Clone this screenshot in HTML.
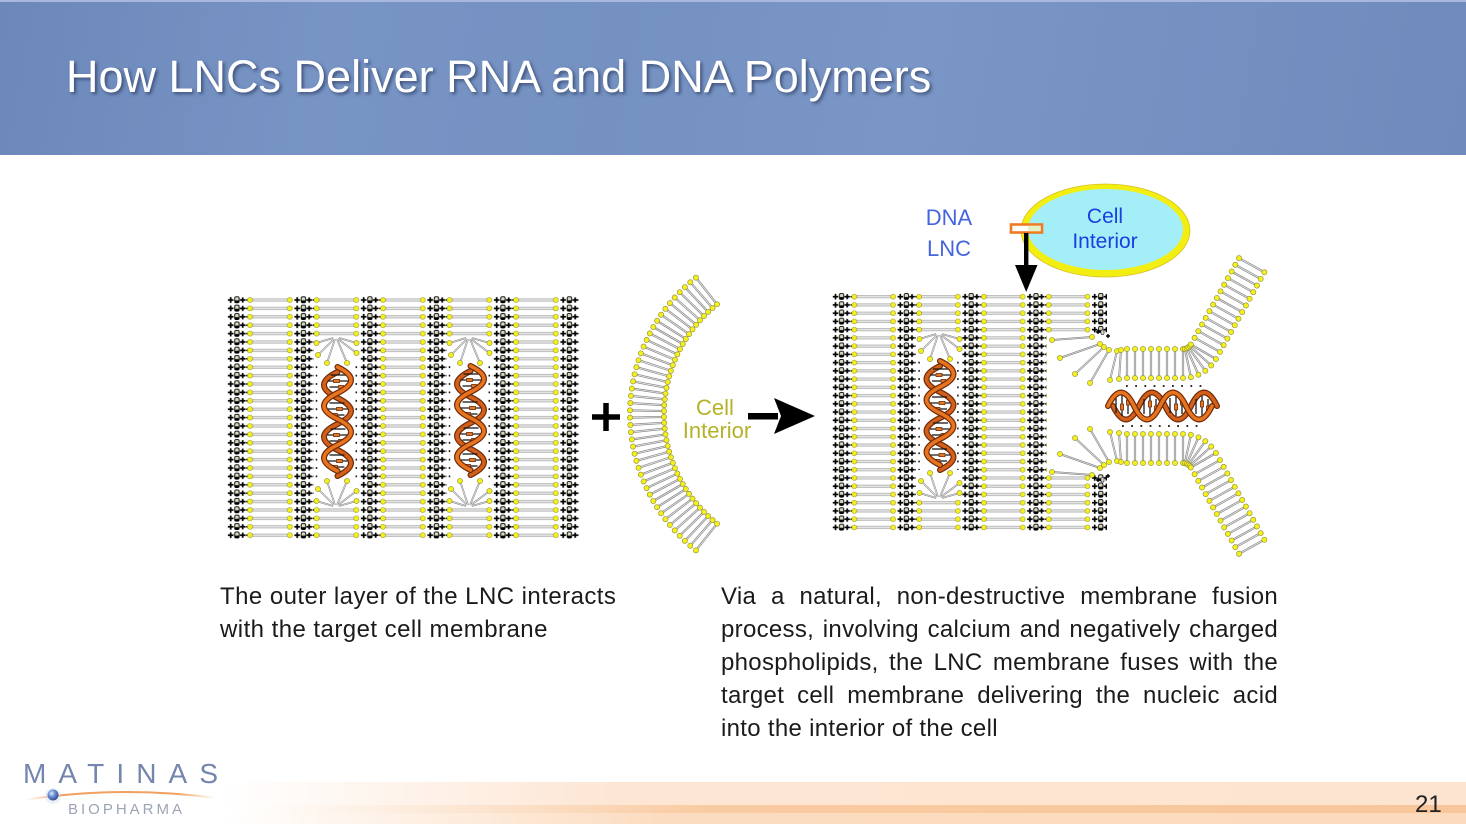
<!DOCTYPE html>
<html><head><meta charset="utf-8">
<style>
html,body{margin:0;padding:0;}
body{width:1466px;height:824px;position:relative;overflow:hidden;background:#fff;font-family:"Liberation Sans",Arial,sans-serif;}
.hdr{position:absolute;left:0;top:0;width:1466px;height:155px;background:linear-gradient(100deg,#6c88ba 0%,#7794c5 22%,#7491c2 42%,#7a96c6 62%,#6f8bbd 100%);border-top:2px solid #a6b9dc;box-sizing:border-box;}
.title{position:absolute;left:66px;top:54px;font-size:45px;line-height:45px;color:#fff;white-space:nowrap;text-shadow:2px 2px 3px rgba(20,30,60,0.55);}
.foot{position:absolute;left:0;top:782px;width:1466px;height:23px;background:linear-gradient(to right,rgba(253,230,212,0) 0%,rgba(253,230,212,0) 15%,#fde6d4 42%,#fde4d0 100%);}
.stripe{position:absolute;left:0;top:805px;width:1466px;height:8px;background:linear-gradient(to right,rgba(249,202,160,0) 0%,rgba(249,202,160,0) 16%,#f9cba2 48%,#f8c69a 100%);}
.foot2{position:absolute;left:0;top:813px;width:1466px;height:11px;background:linear-gradient(to right,rgba(252,220,191,0) 0%,rgba(252,220,191,0) 15%,#fcdcc0 45%,#fcdabd 100%);}
.pg{position:absolute;left:1415px;top:793px;font-size:24px;line-height:24px;color:#222;}
.svg{position:absolute;left:0;top:0;}
.p1{position:absolute;left:220px;top:580px;font-size:24px;line-height:33px;letter-spacing:0.45px;color:#1b1b1b;white-space:nowrap;}
.p2{position:absolute;left:721px;top:580px;width:557px;font-size:24px;line-height:33px;letter-spacing:0.3px;color:#1b1b1b;}
.j{text-align:justify;text-align-last:justify;}
</style></head>
<body>
<div class="hdr"></div>
<div class="title">How LNCs Deliver RNA and DNA Polymers</div>
<div class="foot"></div><div class="stripe"></div><div class="foot2"></div>
<div class="pg">21</div>

<svg class="svg" width="1466" height="824" viewBox="0 0 1466 824" xmlns="http://www.w3.org/2000/svg">
<defs>
 <g id="tile">
  <rect x="29.4" y="3" width="34.8" height="2.4" fill="#e4e4e4" stroke="#8a8a8a" stroke-width="0.5"/>
  <path d="M4.6,4.2h5.6M7.4,1.4v5.6M16.6,4.2h5.6M19.4,1.6v5.2" stroke="#000" stroke-width="1.7" fill="none"/>
  <rect x="11.4" y="0.9" width="4.4" height="6" rx="1.4" fill="#d8d8c0" stroke="#000" stroke-width="0.9"/>
  <rect x="11.6" y="4.6" width="4" height="2.3" fill="#000"/>
  <circle cx="23.6" cy="4.2" r="0.9" fill="#000"/>
  <g fill="#f4ef1d" stroke="#8d8d33" stroke-width="0.5">
   <circle cx="0" cy="4.2" r="2.6"/><circle cx="26.7" cy="4.2" r="2.6"/><circle cx="66.5" cy="4.2" r="2.6"/>
  </g>
 </g>
 <pattern id="pL" patternUnits="userSpaceOnUse" x="223.3" y="295.8" width="66.5" height="8.4">
  <use href="#tile"/>
 </pattern>
 <pattern id="pR" patternUnits="userSpaceOnUse" x="828.3" y="292.58" width="64.8" height="8.24">
  <use href="#tile" transform="scale(0.9744,0.981)"/>
 </pattern>

 <g id="vl">
  <line x1="0" y1="0" x2="0" y2="29" stroke="#8c8c8c" stroke-width="2.2"/>
  <line x1="0" y1="0" x2="0" y2="29" stroke="#f4f4f4" stroke-width="0.7"/>
  <circle cx="0" cy="0" r="2.6" fill="#f4ef1d" stroke="#8d8d33" stroke-width="0.6"/>
  <circle cx="0" cy="29" r="2.6" fill="#f4ef1d" stroke="#8d8d33" stroke-width="0.6"/>
 </g>
 <g id="al">
  <line x1="630" y1="414" x2="664" y2="414" stroke="#8c8c8c" stroke-width="2.2"/>
  <line x1="630" y1="414" x2="664" y2="414" stroke="#f4f4f4" stroke-width="0.7"/>
  <circle cx="630" cy="414" r="2.6" fill="#f4ef1d" stroke="#8d8d33" stroke-width="0.6"/>
  <circle cx="664" cy="414" r="2.6" fill="#f4ef1d" stroke="#8d8d33" stroke-width="0.6"/>
 </g>

 <g id="fanT">
  <g stroke="#8c8c8c" stroke-width="1.8">
   <line x1="333" y1="338" x2="316.5" y2="343"/>
   <line x1="334" y1="339" x2="318" y2="355"/>
   <line x1="335" y1="339" x2="327" y2="363"/>
   <line x1="337" y1="339" x2="347" y2="363"/>
   <line x1="338" y1="339" x2="356.5" y2="353"/>
   <line x1="339" y1="338" x2="356.5" y2="343"/>
  </g>
  <g stroke="#f4f4f4" stroke-width="0.6">
   <line x1="333" y1="338" x2="316.5" y2="343"/>
   <line x1="334" y1="339" x2="318" y2="355"/>
   <line x1="335" y1="339" x2="327" y2="363"/>
   <line x1="337" y1="339" x2="347" y2="363"/>
   <line x1="338" y1="339" x2="356.5" y2="353"/>
   <line x1="339" y1="338" x2="356.5" y2="343"/>
  </g>
  <g fill="#f4ef1d" stroke="#8d8d33" stroke-width="0.6">
   <circle cx="316.5" cy="343" r="2.6"/><circle cx="318" cy="355" r="2.6"/><circle cx="327" cy="363" r="2.6"/>
   <circle cx="347" cy="363" r="2.6"/><circle cx="356.5" cy="353" r="2.6"/><circle cx="356.5" cy="343" r="2.6"/>
  </g>
 </g>

 <g id="helix">
  <g fill="none" stroke-linecap="round">
   <path d="M0,5 Q-27,18 0,31 T0,57 T0,83 T0,109" stroke="#6e2a08" stroke-width="6"/>
   <path d="M0,5 Q-27,18 0,31 T0,57 T0,83 T0,109" stroke="#d2601a" stroke-width="3.6"/>
  </g>
  <g stroke="#1a1a1a" stroke-width="1.3">
   <line x1="-7" y1="8" x2="8" y2="8"/><line x1="-10" y1="14" x2="11" y2="14"/><line x1="-8" y1="20" x2="8" y2="20"/>
   <line x1="-8" y1="36" x2="7" y2="36"/><line x1="-11" y1="42" x2="10" y2="42"/><line x1="-8" y1="48" x2="7" y2="48"/>
   <line x1="-7" y1="62" x2="8" y2="62"/><line x1="-10" y1="68" x2="11" y2="68"/><line x1="-8" y1="74" x2="8" y2="74"/>
   <line x1="-8" y1="88" x2="7" y2="88"/><line x1="-11" y1="94" x2="10" y2="94"/><line x1="-8" y1="100" x2="7" y2="100"/>
  </g>
  <g fill="#e27a2c" stroke="#5a2204" stroke-width="0.6">
   <rect x="-4" y="12.3" width="6" height="3.4"/><rect x="-1" y="40.3" width="6" height="3.4"/>
   <rect x="-4" y="66.3" width="6" height="3.4"/><rect x="-1" y="92.3" width="6" height="3.4"/>
   <rect x="1" y="18.3" width="5" height="3.2"/><rect x="-5" y="46.3" width="5" height="3.2"/>
   <rect x="1" y="72.3" width="5" height="3.2"/><rect x="-5" y="98.3" width="5" height="3.2"/>
  </g>
  <g fill="none" stroke-linecap="round">
   <path d="M0,0 Q27,13 0,26 T0,52 T0,78 T0,104" stroke="#6e2a08" stroke-width="6"/>
   <path d="M0,0 Q27,13 0,26 T0,52 T0,78 T0,104" stroke="#e8741f" stroke-width="3.6"/>
  </g>
 </g>

 <g id="fz">
  <use href="#vl" x="1127" y="349"/><use href="#vl" x="1135" y="349"/><use href="#vl" x="1143" y="349"/>
  <use href="#vl" x="1151" y="349"/><use href="#vl" x="1159" y="349"/><use href="#vl" x="1167" y="349"/>
  <use href="#vl" x="1175" y="349"/><use href="#vl" x="1183" y="349"/>
  <use href="#vl" transform="translate(1183,340) rotate(-12) translate(0,9)"/>
  <use href="#vl" transform="translate(1183,340) rotate(-24) translate(0,9)"/>
  <use href="#vl" transform="translate(1183,340) rotate(-36) translate(0,9)"/>
  <use href="#vl" transform="translate(1183,340) rotate(-48) translate(0,9)"/>
  <use href="#vl" transform="translate(1183,340) rotate(-60) translate(0,9)"/>
  <use href="#vl" transform="translate(1194.6,337.8) rotate(-61)"/>
  <use href="#vl" transform="translate(1198.3,331.1) rotate(-61)"/>
  <use href="#vl" transform="translate(1202.0,324.5) rotate(-61)"/>
  <use href="#vl" transform="translate(1205.7,317.9) rotate(-61)"/>
  <use href="#vl" transform="translate(1209.4,311.2) rotate(-61)"/>
  <use href="#vl" transform="translate(1213.1,304.6) rotate(-61)"/>
  <use href="#vl" transform="translate(1216.8,298.0) rotate(-61)"/>
  <use href="#vl" transform="translate(1220.5,291.4) rotate(-61)"/>
  <use href="#vl" transform="translate(1224.2,284.7) rotate(-61)"/>
  <use href="#vl" transform="translate(1227.9,278.1) rotate(-61)"/>
  <use href="#vl" transform="translate(1231.6,271.5) rotate(-61)"/>
  <use href="#vl" transform="translate(1235.3,264.8) rotate(-61)"/>
  <use href="#vl" transform="translate(1239.0,258.2) rotate(-61)"/>
  <g stroke="#8c8c8c" stroke-width="2">
   <line x1="1052" y1="340" x2="1092" y2="337"/>
   <line x1="1060" y1="358" x2="1100" y2="344"/>
   <line x1="1075" y1="374" x2="1104" y2="347"/>
   <line x1="1090" y1="383" x2="1109" y2="350"/>
   <line x1="1110" y1="380" x2="1117" y2="351"/>
   <line x1="1119" y1="379" x2="1121" y2="350"/>
  </g>
  <g stroke="#f4f4f4" stroke-width="0.6">
   <line x1="1052" y1="340" x2="1092" y2="337"/>
   <line x1="1060" y1="358" x2="1100" y2="344"/>
   <line x1="1075" y1="374" x2="1104" y2="347"/>
   <line x1="1090" y1="383" x2="1109" y2="350"/>
   <line x1="1110" y1="380" x2="1117" y2="351"/>
   <line x1="1119" y1="379" x2="1121" y2="350"/>
  </g>
  <g fill="#f4ef1d" stroke="#8d8d33" stroke-width="0.6">
   <circle cx="1052" cy="340" r="2.6"/><circle cx="1092" cy="337" r="2.6"/>
   <circle cx="1060" cy="358" r="2.6"/><circle cx="1100" cy="344" r="2.6"/>
   <circle cx="1075" cy="374" r="2.6"/><circle cx="1104" cy="347" r="2.6"/>
   <circle cx="1090" cy="383" r="2.6"/><circle cx="1109" cy="350" r="2.6"/>
   <circle cx="1110" cy="380" r="2.6"/><circle cx="1117" cy="351" r="2.6"/>
   <circle cx="1119" cy="379" r="2.6"/><circle cx="1121" cy="350" r="2.6"/>
  </g>
  <path d="M1096,332h4M1098,330v4M1106,336h4M1108,334v4" stroke="#000" stroke-width="1.4"/>
  <rect x="1101" y="330" width="3" height="4.5" rx="1" fill="#ddd" stroke="#111" stroke-width="0.6"/>
 </g>

 <radialGradient id="sph" cx="0.38" cy="0.35" r="0.7">
  <stop offset="0" stop-color="#e4ecfa"/><stop offset="0.45" stop-color="#6a8fd0"/><stop offset="1" stop-color="#2c4a8e"/>
 </radialGradient>
 <linearGradient id="sw" x1="0" y1="0" x2="1" y2="0">
  <stop offset="0" stop-color="#f4b078" stop-opacity="0"/><stop offset="0.2" stop-color="#f0a060"/>
  <stop offset="0.8" stop-color="#f0a060"/><stop offset="1" stop-color="#f4b078" stop-opacity="0"/>
 </linearGradient>
</defs>

<!-- Left LNC block -->
<rect x="227.5" y="295.8" width="351.5" height="243.6" fill="url(#pL)"/>
<rect x="313.4" y="337.8" width="45.8" height="168.6" fill="#fff"/>
<rect x="446.4" y="337.8" width="45.8" height="168.6" fill="#fff"/>
<g stroke="#111" stroke-width="1.5" stroke-dasharray="1.8 6.6">
 <line x1="316.5" y1="366.3" x2="316.5" y2="478"/>
 <line x1="356.3" y1="366.3" x2="356.3" y2="478"/>
 <line x1="449.5" y1="366.3" x2="449.5" y2="478"/>
 <line x1="489.3" y1="366.3" x2="489.3" y2="478"/>
</g>
<use href="#fanT"/>
<use href="#fanT" transform="translate(0,844) scale(1,-1)"/>
<use href="#fanT" transform="translate(133,0)"/>
<use href="#fanT" transform="translate(133,844) scale(1,-1)"/>
<use href="#helix" transform="translate(337.5,367)"/>
<use href="#helix" transform="translate(470.5,366)"/>

<!-- plus -->
<path d="M592,417h28M606,403v28" stroke="#000" stroke-width="5.5"/>

<!-- Cell membrane arc -->
<use href="#al" transform="rotate(-51.6 804 414)"/><use href="#al" transform="rotate(-49.2 804 414)"/>
<use href="#al" transform="rotate(-46.8 804 414)"/><use href="#al" transform="rotate(-44.4 804 414)"/>
<use href="#al" transform="rotate(-42 804 414)"/><use href="#al" transform="rotate(-39.6 804 414)"/>
<use href="#al" transform="rotate(-37.2 804 414)"/><use href="#al" transform="rotate(-34.8 804 414)"/>
<use href="#al" transform="rotate(-32.4 804 414)"/><use href="#al" transform="rotate(-30 804 414)"/>
<use href="#al" transform="rotate(-27.6 804 414)"/><use href="#al" transform="rotate(-25.2 804 414)"/>
<use href="#al" transform="rotate(-22.8 804 414)"/><use href="#al" transform="rotate(-20.4 804 414)"/>
<use href="#al" transform="rotate(-18 804 414)"/><use href="#al" transform="rotate(-15.6 804 414)"/>
<use href="#al" transform="rotate(-13.2 804 414)"/><use href="#al" transform="rotate(-10.8 804 414)"/>
<use href="#al" transform="rotate(-8.4 804 414)"/><use href="#al" transform="rotate(-6 804 414)"/>
<use href="#al" transform="rotate(-3.6 804 414)"/><use href="#al" transform="rotate(-1.2 804 414)"/>
<use href="#al" transform="rotate(1.2 804 414)"/><use href="#al" transform="rotate(3.6 804 414)"/>
<use href="#al" transform="rotate(6 804 414)"/><use href="#al" transform="rotate(8.4 804 414)"/>
<use href="#al" transform="rotate(10.8 804 414)"/><use href="#al" transform="rotate(13.2 804 414)"/>
<use href="#al" transform="rotate(15.6 804 414)"/><use href="#al" transform="rotate(18 804 414)"/>
<use href="#al" transform="rotate(20.4 804 414)"/><use href="#al" transform="rotate(22.8 804 414)"/>
<use href="#al" transform="rotate(25.2 804 414)"/><use href="#al" transform="rotate(27.6 804 414)"/>
<use href="#al" transform="rotate(30 804 414)"/><use href="#al" transform="rotate(32.4 804 414)"/>
<use href="#al" transform="rotate(34.8 804 414)"/><use href="#al" transform="rotate(37.2 804 414)"/>
<use href="#al" transform="rotate(39.6 804 414)"/><use href="#al" transform="rotate(42 804 414)"/>
<use href="#al" transform="rotate(44.4 804 414)"/><use href="#al" transform="rotate(46.8 804 414)"/>
<use href="#al" transform="rotate(49.2 804 414)"/><use href="#al" transform="rotate(51.6 804 414)"/>

<!-- Cell Interior label (middle) -->
<text x="715" y="415" font-family="Liberation Sans, Arial, sans-serif" font-size="22" text-anchor="middle" fill="#b5b22a">Cell</text>
<text x="717" y="438" font-family="Liberation Sans, Arial, sans-serif" font-size="22" text-anchor="middle" fill="#b5b22a">Interior</text>

<!-- big arrow -->
<rect x="748" y="413" width="30" height="6.5" fill="#000"/>
<polygon points="774,398 815,416 774,434 781,416" fill="#000"/>

<!-- Right LNC block -->
<rect x="832" y="292.58" width="275" height="41.2" fill="url(#pR)"/>
<rect x="832" y="333.78" width="215" height="140.08" fill="url(#pR)"/>
<rect x="832" y="473.86" width="275" height="57.68" fill="url(#pR)"/>
<rect x="916" y="333.8" width="45" height="164.8" fill="#fff"/>
<g stroke="#111" stroke-width="1.5" stroke-dasharray="1.8 6.44">
 <line x1="919.1" y1="361.7" x2="919.1" y2="470"/>
 <line x1="957.9" y1="361.7" x2="957.9" y2="470"/>
</g>
<use href="#fanT" transform="translate(603,-4)"/>
<use href="#fanT" transform="translate(603,836) scale(1,-1)"/>
<use href="#helix" transform="translate(940,361)"/>

<!-- Fusion pore -->
<use href="#fz"/>
<use href="#fz" transform="translate(0,812) scale(1,-1)"/>
<g stroke="#111" stroke-width="1.8" stroke-dasharray="1.8 7.4">
 <line x1="1126" y1="386" x2="1202" y2="386"/>
 <line x1="1122" y1="426" x2="1204" y2="426"/>
</g>
<use href="#helix" transform="translate(1108,406) rotate(-90)"/>

<!-- Cell interior ellipse -->
<ellipse cx="1105.5" cy="230.5" rx="84.5" ry="46.5" fill="#f3ee12" stroke="#d8c020" stroke-width="0.8"/>
<ellipse cx="1105.5" cy="229.5" rx="77.5" ry="40.5" fill="#a4eff7"/>
<text x="1105" y="223" font-family="Liberation Sans, Arial, sans-serif" font-size="21" text-anchor="middle" fill="#1a3ee0">Cell</text>
<text x="1105" y="248" font-family="Liberation Sans, Arial, sans-serif" font-size="21" text-anchor="middle" fill="#1a3ee0">Interior</text>

<!-- DNA LNC label -->
<text x="949" y="225" font-family="Liberation Sans, Arial, sans-serif" font-size="22" text-anchor="middle" fill="#4565dd">DNA</text>
<text x="949" y="256" font-family="Liberation Sans, Arial, sans-serif" font-size="22" text-anchor="middle" fill="#4565dd">LNC</text>

<rect x="1011" y="224.5" width="31" height="8" fill="#fff" stroke="#f07a22" stroke-width="2.6"/>
<rect x="1028" y="225.8" width="12.7" height="5.4" fill="#e6f2c6"/>
<rect x="1024" y="233" width="4.4" height="34" fill="#000"/>
<polygon points="1015,265 1037.5,265 1026.2,292" fill="#000"/>

<!-- Logo -->
<text x="23" y="783" font-family="Liberation Sans, Arial, sans-serif" font-size="28" fill="#7486ae" textLength="195" lengthAdjust="spacing">MATINAS</text>
<path d="M24,800 Q120,785 216,798" stroke="url(#sw)" stroke-width="2" fill="none"/>
<circle cx="53" cy="796" r="8" fill="#c8d4ee" opacity="0.35"/>
<circle cx="53" cy="795" r="5.5" fill="url(#sph)"/>
<text x="68" y="814" font-family="Liberation Sans, Arial, sans-serif" font-size="15" fill="#9ca4b6" textLength="114" lengthAdjust="spacing">BIOPHARMA</text>
</svg>

<div class="p1">The outer layer of the LNC interacts<br>with the target cell membrane</div>
<div class="p2">
<div class="j">Via a natural, non-destructive membrane fusion</div>
<div class="j">process, involving calcium and negatively charged</div>
<div class="j">phospholipids, the LNC membrane fuses with the</div>
<div class="j">target cell membrane delivering the nucleic acid</div>
<div>into the interior of the cell</div>
</div>
</body></html>
